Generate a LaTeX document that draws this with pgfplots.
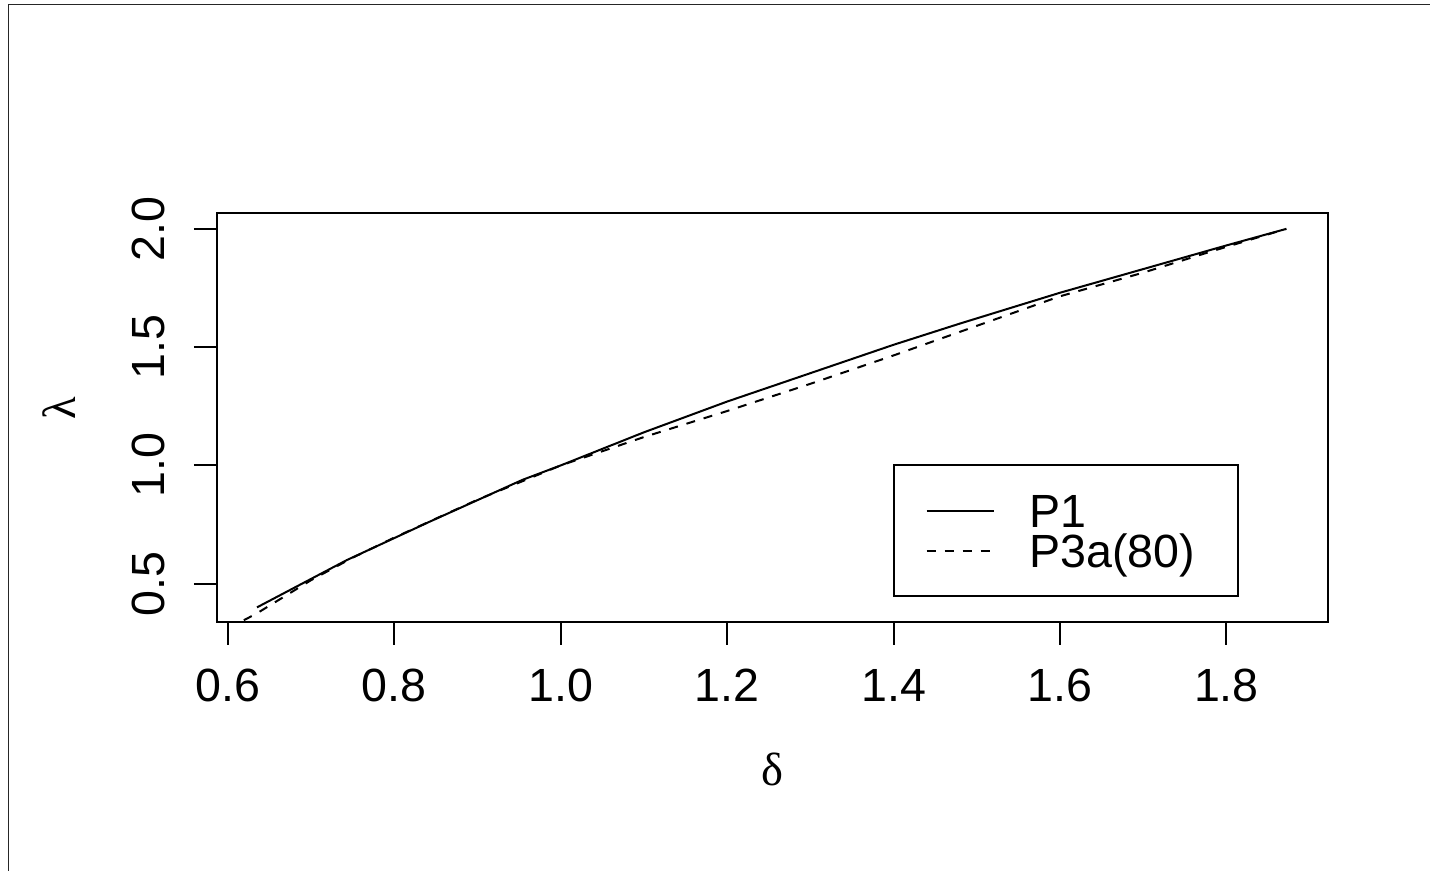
\documentclass[border=0pt]{standalone}
\usepackage{pgfplots}
\pgfplotsset{compat=1.18}
\usepackage{fontspec}
\setmainfont{Liberation Sans}
\newfontfamily\greekfont{Liberation Serif}
\newcommand{\fs}{\fontsize{23.3}{28}\selectfont}
\begin{document}
\begin{tikzpicture}
\begin{axis}[
  scale only axis,
  width=556pt, height=204.5pt,
  xmin=0.5868, xmax=1.9225,
  ymin=0.3395, ymax=2.0676,
  axis line style={line width=1pt},
  every tick/.style={black, line width=1pt},
  tick align=outside,
  major tick length=11.5pt,
  xtick pos=bottom, ytick pos=left,
  xtick={0.6,0.8,1.0,1.2,1.4,1.6,1.8},
  ytick={0.5,1.0,1.5,2.0},
  /pgf/number format/.cd, fixed, fixed zerofill, precision=1, assume math mode=true,
  /pgfplots/.cd,
  tick label style={font=\fs, inner sep=0pt, text height=16.7pt, text depth=0pt},
  xticklabel style={anchor=north, yshift=-11.65pt},
  yticklabel style={rotate=90, anchor=south, yshift=14.5pt},
  xlabel={\greekfont δ},
  ylabel={\greekfont λ},
  xlabel style={font=\fs, inner sep=0pt, at={(axis description cs:0.4995,-0.3619)}, anchor=center},
  ylabel style={font=\fs, inner sep=0pt, at={(axis description cs:-0.1421,0.5232)}, anchor=center},
  legend cell align=left,
  legend style={at={(0.6082,0.3846)}, anchor=north west, draw=black, line width=1pt,
    inner xsep=15.85pt, inner ysep=14.4pt, row sep=3.3pt,
    nodes={font=\fs, inner sep=0pt, text height=16.7pt, text depth=0pt, text width=88.45pt, align=left},
    /tikz/every odd column/.append style={column sep=17.35pt}},
  legend image code/.code={\draw[#1] (0pt,0pt) -- (33.5pt,0pt);},
]
\addplot[black, line width=1pt] coordinates {
(0.635,0.40) (0.743,0.60) (0.843,0.763) (0.954,0.939) (1.0,1.0)
(1.1,1.14) (1.2,1.27) (1.3,1.39) (1.4,1.51) (1.48,1.60)
(1.6,1.73) (1.7,1.83) (1.8,1.93) (1.872,2.0)
};
\addlegendentry{P1}
\addplot[black, line width=1pt, dash pattern=on 4.5pt off 4.5pt] coordinates {
(0.60,0.31) (0.635,0.375) (0.70,0.515) (0.75,0.61) (0.80,0.695)
(0.90,0.855) (1.0,1.0) (1.1,1.12) (1.2,1.23) (1.3,1.345) (1.4,1.465)
(1.5,1.59) (1.6,1.715) (1.7,1.815) (1.783,1.906) (1.872,2.0)
};
\addlegendentry{P3a(80)}
\end{axis}
\draw[line width=0.75pt, black!85] (-104.35pt,-124.5pt) -- (-104.35pt,308.65pt) -- (607pt,308.65pt);
\path[use as bounding box] (-108.5pt,-124.5pt) rectangle (607pt,311pt);
\end{tikzpicture}
\end{document}
